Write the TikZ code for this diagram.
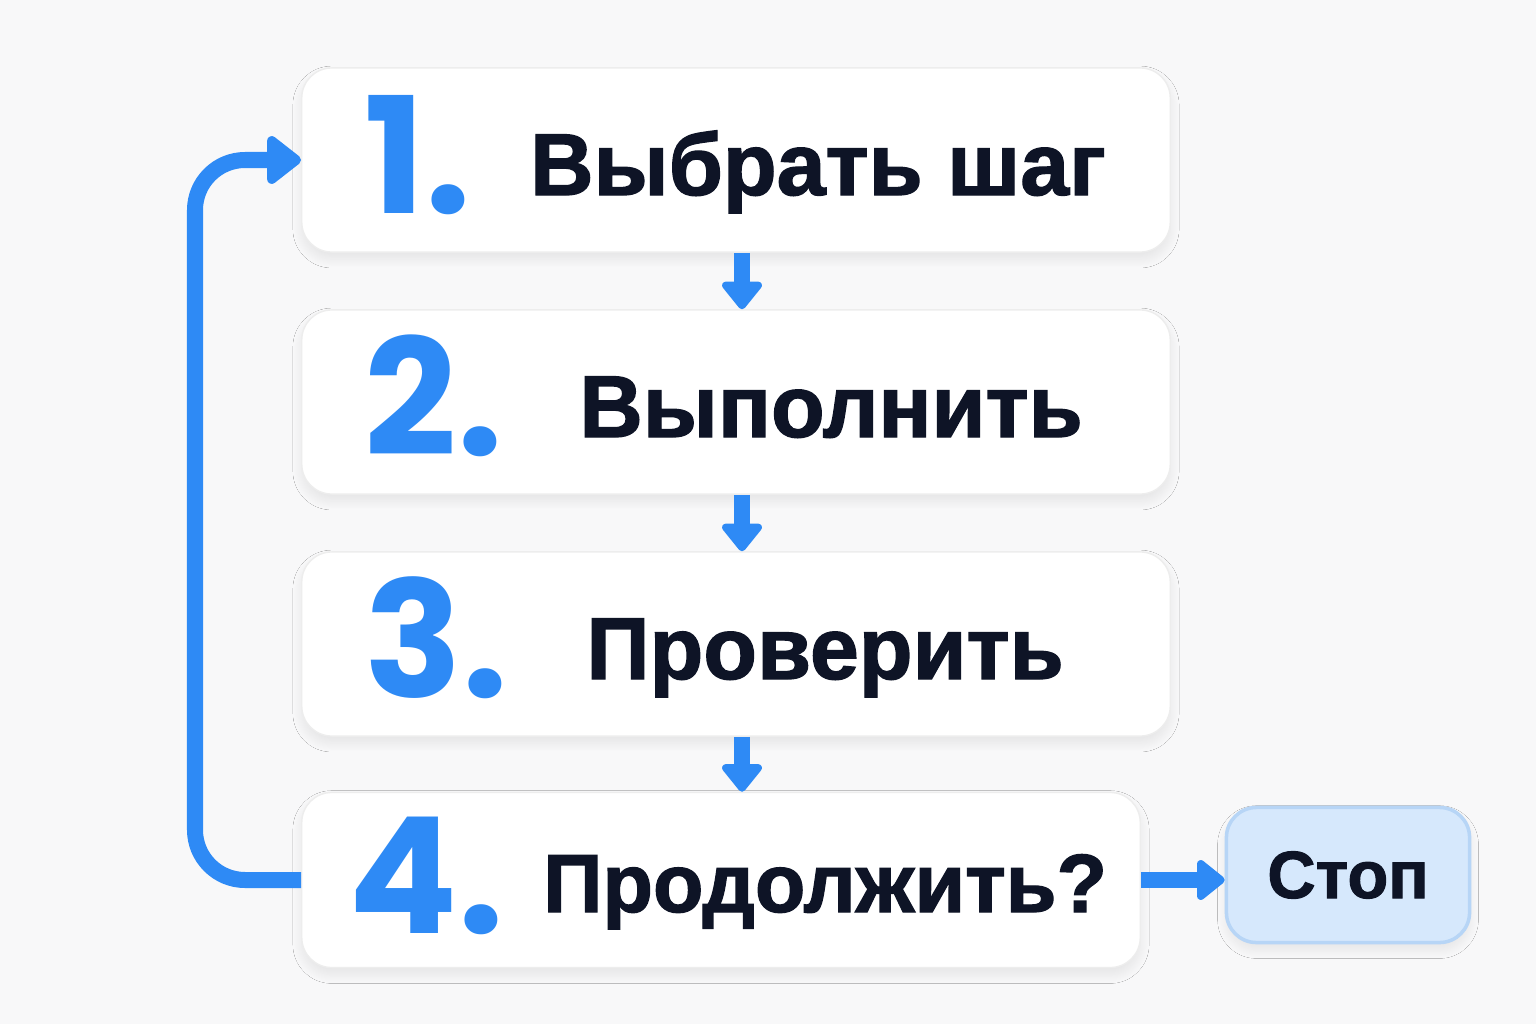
\documentclass[tikz,border=0pt]{standalone}
\usepackage{fontspec}
\setmainfont{Liberation Sans}[BoldFeatures={FakeBold=1.5}]
\newfontfamily\numfont{Poppins}
\usepackage{tikz}
\usetikzlibrary{arrows.meta,shadows.blur}
\definecolor{flowblue}{RGB}{46,138,245}
\definecolor{inkdark}{RGB}{14,20,38}
\definecolor{pagebg}{RGB}{248,248,249}
\definecolor{stopfill}{RGB}{214,232,252}
\definecolor{stopline}{RGB}{183,213,246}

\begin{document}
\begin{tikzpicture}[x=0.01cm,y=-0.01cm,
	softshadow/.style={blur shadow={shadow xshift=0pt,shadow yshift=-2pt,shadow blur radius=2.5pt,shadow blur steps=30,shadow opacity=8}},
	stepbox/.style={draw=black!7,fill=white,rounded corners=0.3cm,minimum width=8.68cm,minimum height=1.84cm,softshadow},
	stopbox/.style={draw=stopline,line width=1pt,fill=stopfill,rounded corners=0.3cm,minimum width=2.43cm,minimum height=1.35cm,
		font=\fontsize{19}{19}\selectfont\bfseries,text=inkdark,softshadow},
	num/.style={anchor=base west,inner sep=0pt,text=flowblue,font=\numfont\bfseries\fontsize{46}{46}\selectfont},
	steptext/.style={anchor=base,inner sep=0pt,text=inkdark,font=\fontsize{25}{25}\selectfont\bfseries},
	flow/.style={draw=flowblue,line width=0.16cm,-{Triangle[width=0.46cm,length=0.3cm,round]}}]
\fill[pagebg] (0,0) rectangle (1536,1024);

% steps 1-3
\foreach \i/\y/\tx/\txt in {1/160/818/Выбрать шаг,2/402/831/Выполнить,3/644/825/Проверить}{
	\node (s\i) [stepbox] at (736,\y) {};
	\node (n\i) [num] at (364,\y+53) {\i.};
	\node (t\i) [steptext] at (\tx,\y+35) {\txt};
}
% step 4 and stop
\node (s4) [stepbox,minimum width=8.38cm,minimum height=1.75cm] at (721,880) {};
\node (n4) [num] at (348,880+53) {4.};
\node (t4) [steptext,font=\fontsize{23.5}{24}\selectfont\bfseries] at (825,912) {Продолжить?};
\node (stop) [stopbox] at (1348,875) {Стоп};

\coordinate (bend) at (195,160);
\foreach \i/\j in {1/2,2/3}
	\draw[flow] ([xshift=0.06cm]s\i.south) -- ([xshift=0.06cm]s\j.north);
\draw[flow] ([xshift=0.06cm]s3.south) -- ([xshift=0.06cm]s3.south |- s4.north);
\draw[flow,rounded corners=0.5cm,-{Triangle[width=0.55cm,length=0.37cm,round]}] (s4.west) -| (bend) -- (s1.west);
\draw[flow] (s4.east) -- (s4.east -| stop.west);
\end{tikzpicture}
\end{document}
